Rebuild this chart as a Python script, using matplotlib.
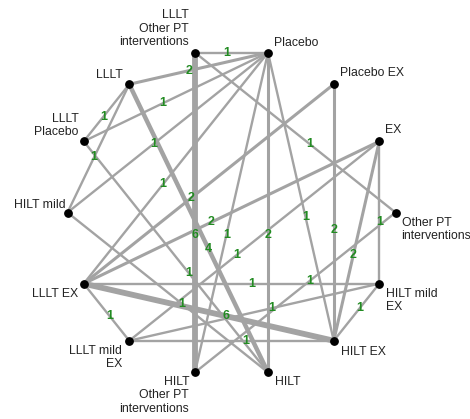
import numpy as np
from matplotlib import pyplot as plt

# treatments, clockwise from the top right
nodes = [
    'Placebo', 'Placebo EX', 'EX', 'Other PT', 'HILT mild EX', 'HILT EX',
    'HILT', 'HILT Other PT', 'LLLT mild EX', 'LLLT EX', 'HILT mild',
    'LLLT Placebo', 'LLLT', 'LLLT Other PT',
]
node_labels = [
    'Placebo', 'Placebo EX', 'EX', 'Other PT\ninterventions', 'HILT mild\nEX',
    'HILT EX', 'HILT', 'HILT\nOther PT\ninterventions', 'LLLT mild\nEX',
    'LLLT EX', 'HILT mild', 'LLLT\nPlacebo', 'LLLT',
    'LLLT\nOther PT\ninterventions',
]

# direct comparisons: (first, second, number of studies)
edges = [
    ('LLLT Other PT', 'Placebo', 1),
    ('LLLT', 'Placebo', 2),
    ('LLLT Placebo', 'Placebo', 1),
    ('HILT mild', 'Placebo', 1),
    ('LLLT EX', 'Placebo', 1),
    ('Other PT', 'LLLT Other PT', 1),
    ('HILT EX', 'Placebo', 1),
    ('HILT EX', 'EX', 2),
    ('HILT mild EX', 'HILT EX', 1),
    ('LLLT Placebo', 'LLLT', 1),
    ('LLLT mild EX', 'LLLT EX', 1),
    ('HILT EX', 'LLLT EX', 6),
    ('HILT EX', 'LLLT mild EX', 1),
    ('HILT Other PT', 'LLLT Other PT', 6),
    ('HILT', 'Placebo', 2),
    ('HILT EX', 'Placebo EX', 2),
    ('HILT', 'LLLT', 4),
    ('LLLT EX', 'EX', 2),
    ('LLLT EX', 'Placebo EX', 2),
    ('LLLT mild EX', 'EX', 1),
    ('HILT mild', 'LLLT', 1),
    ('HILT', 'LLLT Placebo', 1),
    ('HILT', 'HILT mild', 1),
    ('HILT mild EX', 'LLLT EX', 1),
    ('Other PT', 'HILT Other PT', 1),
    ('HILT mild EX', 'LLLT mild EX', 1),
    ('HILT mild EX', 'EX', 1),
    ('HILT Other PT', 'Placebo', 1),
]

# label offsets (px) and alignment for each node
label_style = {
    'Placebo': (6, -10, 'left', 'center'),
    'Placebo EX': (6, -11, 'left', 'center'),
    'EX': (6, -11, 'left', 'center'),
    'Other PT': (6, 4, 'left', 'top'),
    'HILT mild EX': (7, 4, 'left', 'top'),
    'HILT EX': (7, 5, 'left', 'top'),
    'HILT': (7, 4, 'left', 'top'),
    'HILT Other PT': (-6, 4, 'right', 'top'),
    'LLLT mild EX': (-7, 4, 'right', 'top'),
    'LLLT EX': (-6, 4, 'right', 'top'),
    'HILT mild': (-2, -8, 'right', 'center'),
    'LLLT Placebo': (-5, -3, 'right', 'bottom'),
    'LLLT': (-6, -9, 'right', 'center'),
    'LLLT Other PT': (-6, -5, 'right', 'bottom'),
}

W, H = 470, 419
cx, cy, R = 231.5, 212.5, 164

n = len(nodes)
ang = np.radians(360.0 / n * (np.arange(n) + 0.5))
pos = {name: (cx + R * np.sin(a), cy - R * np.cos(a)) for name, a in zip(nodes, ang)}

fig = plt.figure(figsize=(W / 100, H / 100), dpi=100)
ax = fig.add_axes([0, 0, 1, 1])
ax.set_xlim(0, W)
ax.set_ylim(H, 0)
ax.axis('off')

for a, b, k in edges:
    (x0, y0), (x1, y1) = pos[a], pos[b]
    ax.plot([x0, x1], [y0, y1], color='#a3a3a3', lw=1.2 + 0.5 * k,
            solid_capstyle='butt', zorder=1)

for a, b, k in edges:
    (x0, y0), (x1, y1) = pos[a], pos[b]
    t = 0.43
    ax.text(x0 + t * (x1 - x0), y0 + t * (y1 - y0), str(k),
            color='#228b22', fontsize=9, fontweight='bold',
            ha='center', va='center', family='Liberation Sans', zorder=3)

for name, lab in zip(nodes, node_labels):
    x, y = pos[name]
    ax.scatter([x], [y], s=28, color='black', zorder=4)
    dx, dy, ha, va = label_style[name]
    ax.text(x + dx, y + dy, lab, ha=ha, va=va, multialignment=ha,
            fontsize=8.8, color='#222222', family='Liberation Sans',
            linespacing=1.12, zorder=5)

fig.savefig('out.png', dpi=100)
